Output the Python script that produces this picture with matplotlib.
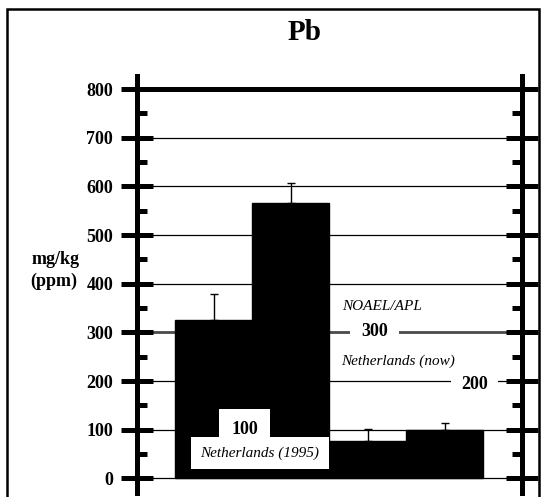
import matplotlib
matplotlib.use("Agg")
import matplotlib.pyplot as plt
from matplotlib.patches import Rectangle
from matplotlib.ticker import MultipleLocator

# Data
positions = [1, 2, 3, 4]
values = [325, 566, 77, 100]
errors_up = [53, 42, 24, 13]
title = "Pb"
ylabel_lines = ["mg/kg", "(ppm)"]
yticks = [0, 100, 200, 300, 400, 500, 600, 700, 800]
noael_value = 300
nl_now_value = 200
nl_1995_value = 100

plt.rcParams['font.family'] = ['Liberation Serif', 'DejaVu Serif']

fig = plt.figure(figsize=(5.41, 4.97), dpi=100)
ax = fig.add_axes([136.7 / 541, 4 / 497, 385 / 541, 417 / 497])

ax.set_xlim(0, 5)
ax.set_ylim(-30, 827)

# grid lines
for t in yticks:
    if t == 800:
        ax.axhline(t, color='black', lw=3.6, zorder=3)
    else:
        ax.axhline(t, color='black', lw=0.9, zorder=0.5)

# NOAEL line (double-ish grey line at 300)
ax.axhline(noael_value, color='0.3', lw=2.0, zorder=0.6)

ax.bar(positions, values, width=1.0, color='black', edgecolor='black',
       linewidth=1.0, zorder=1)
ax.errorbar(positions, values, yerr=[[0] * len(values), errors_up], fmt='none',
            ecolor='black', elinewidth=1.0, capsize=3, capthick=1.0, zorder=2)

# spines
for s in ['top', 'bottom']:
    ax.spines[s].set_visible(False)
for s in ['left', 'right']:
    ax.spines[s].set_linewidth(3.6)

ax.set_xticks([])
ax.set_yticks(yticks)
ax.yaxis.set_minor_locator(MultipleLocator(50))
ax.yaxis.set_ticks_position('both')
ax.tick_params(axis='y', which='major', direction='inout', length=23, width=3.6,
               pad=5.5, labelsize=13, right=True)
ax.tick_params(axis='y', which='minor', direction='in', length=7, width=3.6,
               right=True)
for lab in ax.get_yticklabels():
    lab.set_fontweight('bold')

# y label
fig.text(32 / 541, 1 - 260 / 497, ylabel_lines[0], ha='left', va='center',
         fontsize=13, fontweight='bold')
fig.text(30 / 541, 1 - 281 / 497, ylabel_lines[1], ha='left', va='center',
         fontsize=13, fontweight='bold')

# title
fig.text(305 / 541, 1 - 33 / 497, title, ha='center', va='center',
         fontsize=21, fontweight='bold')

# annotations
ax.text(2.666, 353, "NOAEL/APL", ha='left', va='center', fontsize=11,
        fontstyle='italic', zorder=5)
ax.text(3.088, noael_value + 2, str(noael_value), ha='center', va='center',
        fontsize=13, fontweight='bold', zorder=5,
        bbox=dict(facecolor='white', edgecolor='none', boxstyle='square,pad=0.6'))
ax.text(2.653, 241, "Netherlands (now)", ha='left', va='center', fontsize=11,
        fontstyle='italic', zorder=5)
ax.text(4.387, nl_now_value - 8, str(nl_now_value), ha='center', va='center',
        fontsize=13, fontweight='bold', zorder=5,
        bbox=dict(facecolor='white', edgecolor='none', boxstyle='square,pad=0.55'))
ax.text(1.40, nl_1995_value + 1, str(nl_1995_value), ha='center', va='center',
        fontsize=13, fontweight='bold', zorder=5,
        bbox=dict(facecolor='white', edgecolor='none', boxstyle='square,pad=0.65'))
ax.text(1.60, 52, "Netherlands (1995)", ha='center', va='center', fontsize=11,
        fontstyle='italic', zorder=6,
        bbox=dict(facecolor='white', edgecolor='none', boxstyle='square,pad=0.6'))

# outer frame
fig.patches.append(Rectangle((7 / 541, -0.05), 532 / 541, 1 - 9 / 497 + 0.05,
                             transform=fig.transFigure, fill=False,
                             edgecolor='black', lw=1.8, zorder=10))

fig.savefig("out.png", dpi=100)
